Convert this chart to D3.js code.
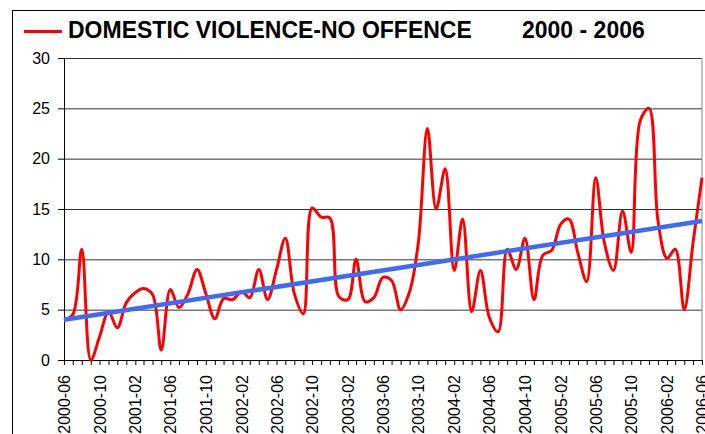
<!DOCTYPE html>
<html>
<head>
<meta charset="utf-8">
<script src="https://cdn.jsdelivr.net/npm/d3@7"></script>
<style>
  body { margin: 0; background: #fff; }
  svg { display: block; font-family: "Liberation Sans", Arial, sans-serif; }
</style>
</head>
<body>
<div id="chart-container"></div>
<script>
// Monthly counts, 2000-06 to 2006-06
const startMonth = '2000-06';
const endMonth = '2006-06';
const counts = [
  4.0, 4.5, 11.0, 0.0, 2.3, 4.8, 3.2, 5.7, 6.7, 7.1, 6.5, 1.0,
  7.0, 5.2, 6.6, 9.0, 6.6, 4.1, 6.1, 6.0, 6.8, 6.2, 9.0, 6.0,
  9.0, 12.1, 6.6, 4.6, 15.1, 14.2, 14.1, 6.3, 6.0, 10.0, 5.8, 6.2,
  8.2, 7.9, 5.0, 6.8, 11.7, 23.0, 15.0, 19.0, 8.9, 14.0, 4.8, 8.9,
  4.2, 2.8, 11.0, 9.0, 12.1, 6.0, 10.4, 10.9, 13.5, 14.0, 10.6, 7.8,
  18.1, 11.6, 8.9, 14.8, 10.7, 23.8, 25.0, 13.8, 10.1, 11.0, 5.0, 11.6,
  18.1
];
// linear trend, value at first and last month
const trend = [4.0, 13.8];
const xTickLabels = [
  '2000-06', '2000-10', '2001-02', '2001-06', '2001-10', '2002-02', '2002-06',
  '2002-10', '2003-02', '2003-06', '2003-10', '2004-02', '2004-06', '2004-10',
  '2005-02', '2005-06', '2005-10', '2006-02', '2006-06'
];
const yTicks = [0, 5, 10, 15, 20, 25, 30];
const legendText = 'DOMESTIC VIOLENCE-NO OFFENCE';
const yearText = '2000 - 2006';

const W = 705, H = 434;
const margin = { top: 58, right: 3, bottom: 74, left: 64 };
const width = W - margin.left - margin.right;
const height = H - margin.top - margin.bottom;

const parseMonth = d3.timeParse('%Y-%m');
const months = d3.timeMonth.range(parseMonth(startMonth), d3.timeMonth.offset(parseMonth(endMonth), 1));
const data = months.map((m, i) => ({ date: m, value: counts[i] }));

const svg = d3.select('#chart-container').append('svg')
  .attr('width', W)
  .attr('height', H);

// outer chart frame
svg.append('rect')
  .attr('x', 12.5).attr('y', 10.5)
  .attr('width', 720).attr('height', 450)
  .style('fill', 'none').style('stroke', '#000').style('stroke-width', 1);

const g = svg.append('g')
  .attr('transform', `translate(${margin.left},${margin.top})`);

const x = d3.scaleTime()
  .domain([months[0], months[months.length - 1]])
  .range([0, width]);

const y = d3.scaleLinear()
  .domain([0, 30])
  .range([height, 0]);

// gridlines
g.append('g')
  .attr('class', 'grid')
  .call(d3.axisLeft(y).tickValues(yTicks).tickSize(-width).tickFormat(''))
  .call(s => s.select('.domain').remove())
  .selectAll('line')
  .style('stroke', '#333');

// plot area right border
g.append('line')
  .attr('x1', width).attr('x2', width)
  .attr('y1', 0).attr('y2', height)
  .style('stroke', '#888');

// y axis
const yAxis = g.append('g')
  .call(d3.axisLeft(y).tickValues(yTicks).tickSize(6).tickPadding(8));
yAxis.select('.domain').style('stroke', '#000');
yAxis.selectAll('text')
  .style('font-size', '16px')
  .style('fill', '#000');

// x axis: monthly ticks, label every 4 months
const xAxis = g.append('g')
  .attr('transform', `translate(0,${height})`)
  .call(d3.axisBottom(x).tickValues(months).tickSize(5).tickFormat(''));
xAxis.select('.domain').style('stroke', '#000');

g.append('g')
  .selectAll('text')
  .data(xTickLabels)
  .enter().append('text')
  .attr('transform', d => `translate(${x(parseMonth(d)) + 6},${height + 15}) rotate(-90)`)
  .style('text-anchor', 'end')
  .style('font-size', '16px')
  .text(d => d);

// red monthly line, smoothed
const line = d3.line()
  .x(d => x(d.date))
  .y(d => y(d.value))
  .curve(d3.curveCatmullRom.alpha(0.5));

g.append('path')
  .datum(data)
  .attr('d', line)
  .style('stroke', '#ff0000')
  .style('fill', 'none')
  .style('stroke-width', 3)
  .style('stroke-linejoin', 'round');

// blue trend line
g.append('path')
  .datum([{ date: months[0], value: trend[0] }, { date: months[months.length - 1], value: trend[1] }])
  .attr('d', d3.line().x(d => x(d.date)).y(d => y(d.value)))
  .style('stroke', '#3d6bf5')
  .style('fill', 'none')
  .style('stroke-width', 4.5);

// legend / title
svg.append('line')
  .attr('x1', 24).attr('x2', 62)
  .attr('y1', 31.5).attr('y2', 31.5)
  .style('stroke', '#ff0000')
  .style('stroke-width', 3);

svg.append('text')
  .attr('x', 68).attr('y', 38)
  .style('font-size', '23px')
  .style('font-weight', 'bold')
  .text(legendText);

svg.append('text')
  .attr('x', 522).attr('y', 38)
  .style('font-size', '23px')
  .style('font-weight', 'bold')
  .text(yearText);
</script>
</body>
</html>
